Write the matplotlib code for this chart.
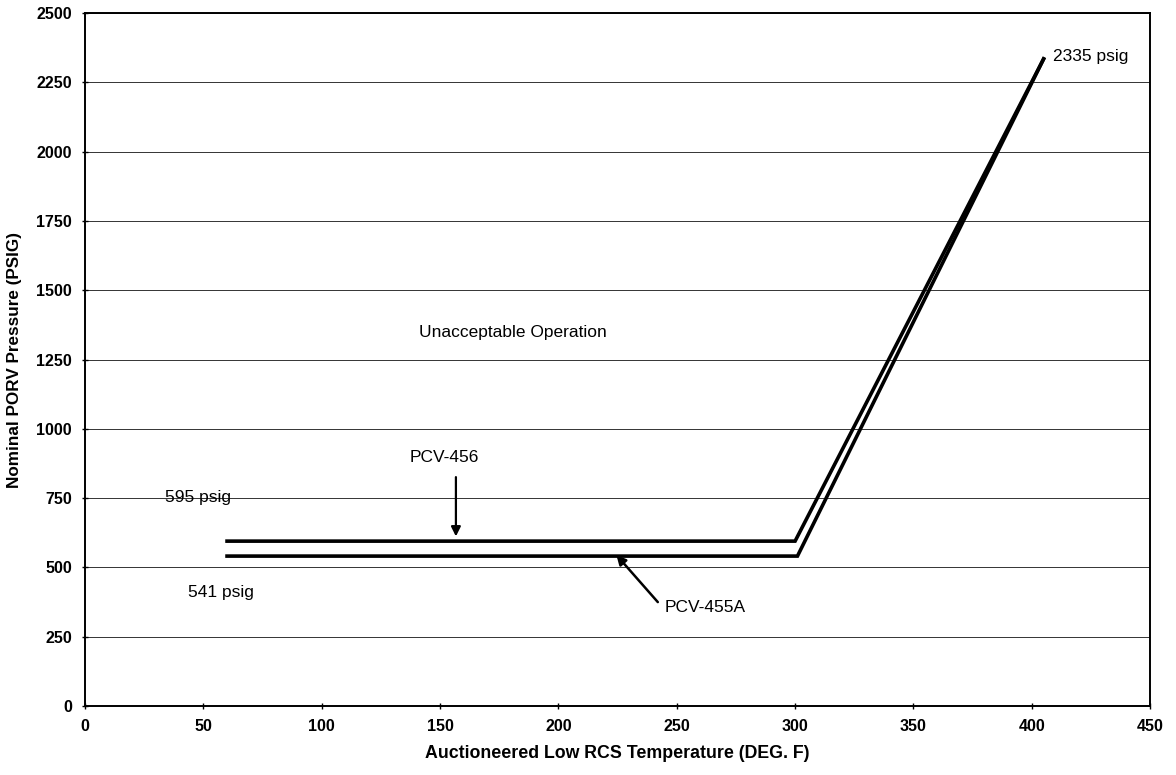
import matplotlib.pyplot as plt

plt.rcParams['font.family'] = ['Liberation Sans', 'DejaVu Sans']

# PORV setpoint curves (temperature deg F, pressure psig)
pcv456_temp = [60, 300, 405]
pcv456_press = [595, 595, 2335]
pcv455a_temp = [60, 301, 405]
pcv455a_press = [541, 541, 2335]

x_ticks = [0, 50, 100, 150, 200, 250, 300, 350, 400, 450]
y_ticks = [0, 250, 500, 750, 1000, 1250, 1500, 1750, 2000, 2250, 2500]

fig = plt.figure(figsize=(11.76, 7.75), dpi=100)
ax = fig.add_axes([0.0723, 0.089, 0.9057, 0.894])

ax.plot(pcv456_temp, pcv456_press, color='black', linewidth=2.6, solid_joinstyle='miter')
ax.plot(pcv455a_temp, pcv455a_press, color='black', linewidth=2.6, solid_joinstyle='miter')

ax.set_xlim(0, 450)
ax.set_ylim(0, 2500)
ax.set_xticks(x_ticks)
ax.set_yticks(y_ticks)
ax.tick_params(direction='inout', length=5, width=1, labelsize=11.5, pad=7)
for lbl in ax.get_xticklabels() + ax.get_yticklabels():
    lbl.set_fontweight('bold')

ax.yaxis.grid(True, color='#333333', linewidth=0.7)
ax.set_axisbelow(True)
for sp in ax.spines.values():
    sp.set_linewidth(1.4)

ax.set_xlabel('Auctioneered Low RCS Temperature (DEG. F)', fontsize=12.8, fontweight='bold', labelpad=8)
ax.set_ylabel('Nominal PORV Pressure (PSIG)', fontsize=12.3, fontweight='bold', labelpad=10)

# annotations
fs = 12.5
ax.text(141, 1349, 'Unacceptable Operation', fontsize=fs, va='center', ha='left')
ax.text(34, 754, '595 psig', fontsize=fs, va='center', ha='left')
ax.text(43.5, 411, '541 psig', fontsize=fs, va='center', ha='left')
ax.text(409, 2345, '2335 psig', fontsize=fs, va='center', ha='left')
ax.text(152, 895, 'PCV-456', fontsize=fs, va='center', ha='center')
ax.text(245, 354, 'PCV-455A', fontsize=fs, va='center', ha='left')

ax.annotate('', xy=(156.7, 612), xytext=(156.7, 826),
            arrowprops=dict(arrowstyle='-|>', color='black', lw=1.6, mutation_scale=14,
                            shrinkA=0, shrinkB=0))
ax.annotate('', xy=(224.5, 545), xytext=(242, 375),
            arrowprops=dict(arrowstyle='-|>', color='black', lw=1.8, mutation_scale=14,
                            shrinkA=0, shrinkB=0))

plt.savefig('out.png', dpi=100)
